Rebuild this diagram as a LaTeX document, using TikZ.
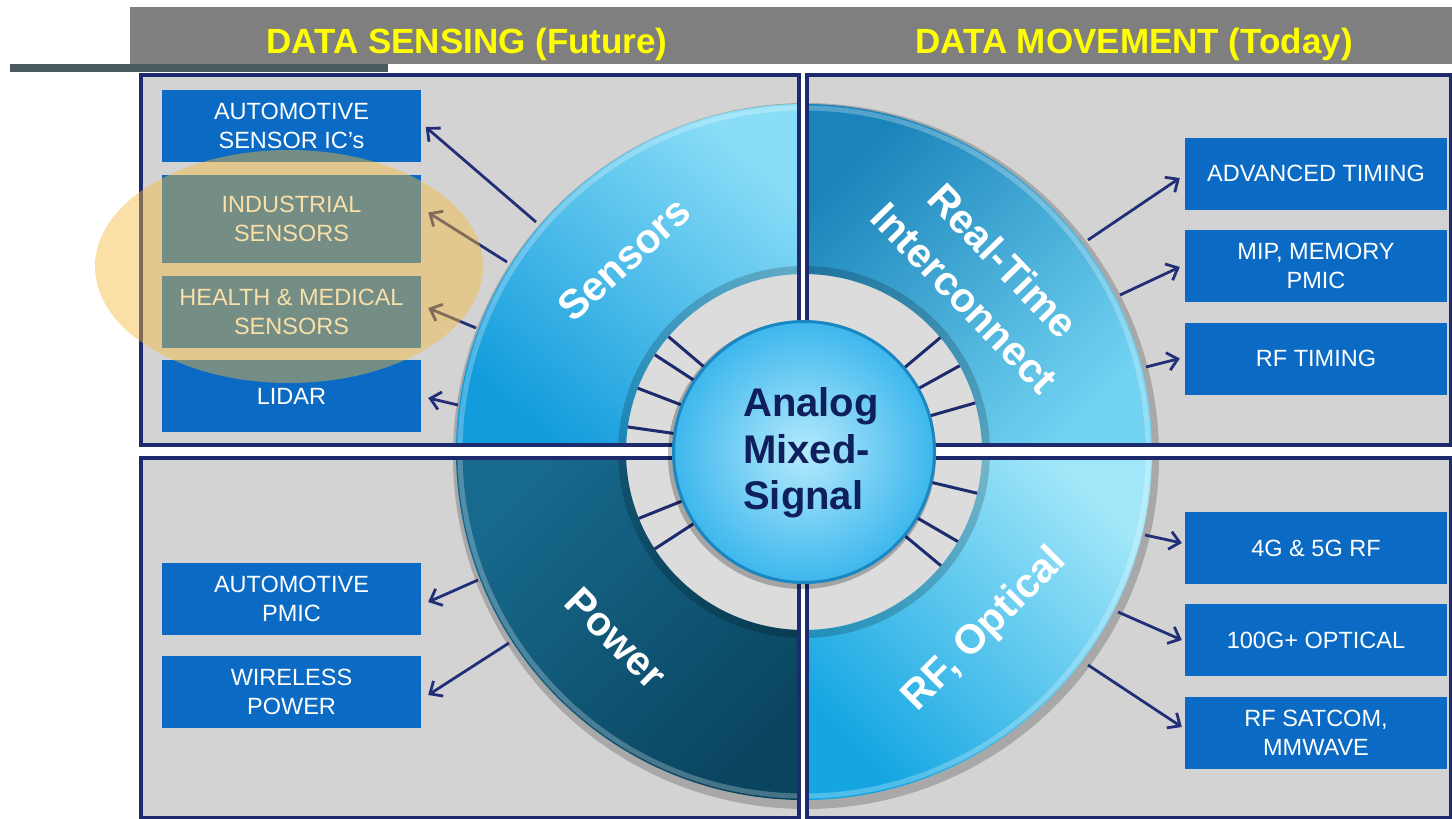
\documentclass[tikz,border=0pt]{standalone}
\usepackage{fontspec}
\setmainfont{Liberation Sans}
\usetikzlibrary{arrows.meta,calc,shapes.geometric}
\definecolor{navy}{HTML}{1E2A6E}
\definecolor{arrownavy}{HTML}{232E78}
\definecolor{boxblue}{HTML}{0B6BC4}
\definecolor{hdrgray}{HTML}{7F7F7F}
\definecolor{slate}{HTML}{4A5A5D}
\definecolor{panelgray}{HTML}{D3D3D3}
\definecolor{gapgray}{HTML}{DCDCDC}
\definecolor{txtnavy}{HTML}{0E1F5B}
\definecolor{titleyellow}{HTML}{FFFF00}
\definecolor{ovl}{HTML}{F5B93C}
\definecolor{sensA}{HTML}{8ADDF7}
\definecolor{sensB}{HTML}{139CDC}
\definecolor{rtA}{HTML}{1A84BA}
\definecolor{rtB}{HTML}{72D3F2}
\definecolor{powA}{HTML}{17698D}
\definecolor{powB}{HTML}{0A4560}
\definecolor{rfA}{HTML}{A2E7F9}
\definecolor{rfB}{HTML}{15A6E2}
\definecolor{coreIn}{HTML}{B5EAFC}
\definecolor{coreOut}{HTML}{3DB7ED}
\definecolor{coreEdge}{HTML}{1A86C2}
\begin{document}
\begin{tikzpicture}[x=1pt,y=1pt,
  lbox/.style={fill=boxblue, text=white, minimum width=259pt, minimum height=72pt, inner sep=0pt, align=center, font=\fontsize{23.5}{29}\selectfont},
  rbox/.style={lbox, minimum width=262pt},
  arr/.style={draw=arrownavy, line width=2.8pt, -{Straight Barb[length=10pt,width=18pt]}},
  spoke/.style={draw=navy, line width=3pt},
  ringlbl/.style={text=white, font=\fontsize{41}{54}\selectfont\bfseries, inner sep=0pt, align=center},
  ttl/.style={text=titleyellow, font=\fontsize{35}{40}\selectfont\bfseries, inner sep=0pt},
  border/.style={draw=navy, line width=4pt}]
\useasboundingbox (0,0) rectangle (1452,-819);
% header
\fill[hdrgray] (130,-7) rectangle (1452,-64);
\fill[slate] (10,-64) rectangle (388,-72);
\node[ttl, anchor=base] (t1) at (467,-53) {DATA SENSING (Future)};
\node[ttl, anchor=base] (t2) at (1134,-53) {DATA MOVEMENT (Today)};
% panels
\fill[panelgray] (141,-75) rectangle (798.5,-444.5);
\fill[panelgray] (807,-75) rectangle (1451,-444.5);
\fill[panelgray] (141,-457.5) rectangle (798.5,-818);
\fill[panelgray] (807,-457.5) rectangle (1451,-818);
% ring
\begin{scope}[shift={(804,-452)}]
  \fill[black, opacity=.2] (2,-4) circle[radius=353pt];
  \fill[gapgray] (0,0) circle[radius=180pt];
  \shade[top color=sensA, bottom color=sensB, shading angle=-40]
    (90:348pt) arc[start angle=90,end angle=180,radius=348pt] -- (180:178pt) arc[start angle=180,end angle=90,radius=178pt] -- cycle;
  \shade[top color=rtA, bottom color=rtB, shading angle=45]
    (0:348pt) arc[start angle=0,end angle=90,radius=348pt] -- (90:178pt) arc[start angle=90,end angle=0,radius=178pt] -- cycle;
  \shade[top color=powA, bottom color=powB, shading angle=45]
    (180:348pt) arc[start angle=180,end angle=270,radius=348pt] -- (270:178pt) arc[start angle=270,end angle=180,radius=178pt] -- cycle;
  \shade[top color=rfA, bottom color=rfB, shading angle=-45]
    (270:348pt) arc[start angle=270,end angle=360,radius=348pt] -- (0:178pt) arc[start angle=0,end angle=-90,radius=178pt] -- cycle;
  \draw[black, opacity=.18, line width=8pt] (0,0) circle[radius=182pt];
  \draw[white, opacity=.25, line width=5pt] (0,0) circle[radius=344pt];
\end{scope}
% separators
\fill[white] (800.5,-73) rectangle (805,-819);
\fill[white] (139,-446.5) rectangle (1452,-455.5);
\draw[border] (141,-75) rectangle (798.5,-444.5);
\draw[border] (807,-75) rectangle (1451,-444.5);
\draw[border] (141,-457.5) rectangle (798.5,-818);
\draw[border] (807,-457.5) rectangle (1451,-818);
% spokes
\begin{scope}[shift={(804,-452)}]
  \foreach \a in {139.6,146.9,159,171.9,40,29,16,-13.4,-30.2,-39.7,201.9,213}
    \draw[spoke] (\a:128pt) -- (\a:178pt);
\end{scope}
% core
\fill[black, opacity=.25] (802,-455) circle[radius=134pt];
\node[circle, minimum size=261pt, inner sep=0pt, draw=coreEdge, line width=3pt, shade, inner color=coreIn, outer color=coreOut] (core) at (804,-452) {};
\node[anchor=west, align=left, text=txtnavy, font=\fontsize{40}{46.5}\selectfont\bfseries, inner sep=0pt] (ams) at (743,-453) {Analog\\Mixed-\\Signal};
% ring labels
\node[ringlbl, rotate=42] (lsens) at (624,-259) {Sensors};
\node[ringlbl, rotate=-46] (lrt) at (984,-279) {Real-Time\\Interconnect};
\node[ringlbl, rotate=-45] (lpow) at (616,-638) {Power};
\node[ringlbl, rotate=45] (lrf) at (985,-630) {RF, Optical};
% boxes
\node[lbox] (as) at (291.5,-125.5) {AUTOMOTIVE\\SENSOR IC's};
\node[lbox, minimum height=88pt] (ind) at (291.5,-218.5) {INDUSTRIAL\\SENSORS};
\node[lbox] (hm) at (291.5,-312) {HEALTH \& MEDICAL\\SENSORS};
\node[lbox] (lid) at (291.5,-396) {LIDAR};
\node[lbox] (apm) at (291.5,-599) {AUTOMOTIVE\\PMIC};
\node[lbox] (wp) at (291.5,-692) {WIRELESS\\POWER};
\node[rbox] (adv) at (1316,-173.5) {ADVANCED TIMING};
\node[rbox] (mip) at (1316,-266) {MIP, MEMORY\\PMIC};
\node[rbox] (rft) at (1316,-358.5) {RF TIMING};
\node[rbox] (g45) at (1316,-548) {4G \& 5G RF};
\node[rbox] (opt) at (1316,-640) {100G+ OPTICAL};
\node[rbox] (sat) at (1316,-733) {RF SATCOM,\\MMWAVE};
% arrow start points on the ring
\coordinate (s1) at (536,-222);
\coordinate (s2) at (507,-262);
\coordinate (s3) at (476,-328);
\coordinate (s4) at (458,-405);
\coordinate (s5) at (478,-580);
\coordinate (s6) at (509,-643);
\coordinate (s7) at (1088,-240);
\coordinate (s8) at (1120,-295);
\coordinate (s9) at (1146,-367);
\coordinate (s10) at (1145,-535);
\coordinate (s11) at (1118,-612);
\coordinate (s12) at (1088,-665);
\draw[arr] (s1) -- ($(as.east)+(4.5,-1.5)$);
\draw[arr] (s2) -- ($(ind.east)+(7,6)$);
\draw[arr] (s3) -- ($(hm.east)+(7,4)$);
\draw[arr] (s4) -- ($(lid.east)+(7,-2)$);
\draw[arr] (s5) -- ($(apm.east)+(7,-3)$);
\draw[arr] (s6) -- ($(wp.east)+(7,-3)$);
\draw[arr] (s7) -- ($(adv.west)+(-5,-4.5)$);
\draw[arr] (s8) -- ($(mip.west)+(-5,-1)$);
\draw[arr] (s9) -- ($(rft.west)+(-5,0)$);
\draw[arr] (s10) -- ($(g45.west)+(-3,5)$);
\draw[arr] (s11) -- ($(opt.west)+(-3,0)$);
\draw[arr] (s12) -- ($(sat.west)+(-3,6)$);
% highlight
\node[ellipse, minimum width=388pt, minimum height=233pt, inner sep=0pt, fill=ovl, fill opacity=.45] (hl) at (289,-266.5) {};
\end{tikzpicture}
\end{document}
